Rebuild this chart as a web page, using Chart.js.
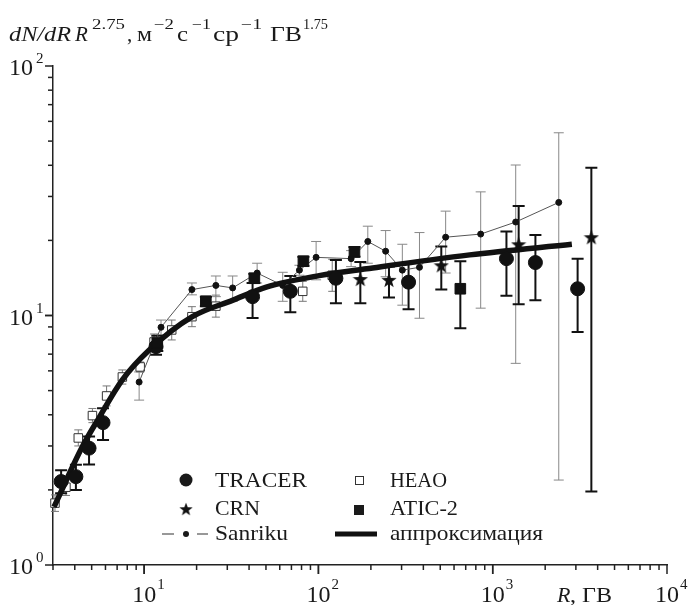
<!DOCTYPE html>
<html>
<head>
<meta charset="utf-8">
<script src="https://cdn.jsdelivr.net/npm/chart.js@4.4.0/dist/chart.umd.min.js"></script>
<style>
  body { margin: 0; background: #fff; }
  #wrap { width: 692px; height: 605px; }
</style>
</head>
<body>
<div id="wrap"><canvas id="spectrumChart" width="692" height="605"></canvas></div>
<script>
// TRACER
const traX  = [3.34, 4.06, 4.83, 5.81, 11.7, 41.9, 69.0, 126, 329, 1199, 1758, 3070];
const traY  = [2.16, 2.26, 2.94, 3.72, 7.50, 11.9, 12.5, 14.1, 13.6, 16.9, 16.3, 12.8];
const traLo = [1.94, 2.00, 2.53, 3.17, 6.96, 9.77, 10.3, 11.2, 10.6, 12.0, 11.5, 8.59];
const traHi = [2.40, 2.52, 3.27, 4.25, 8.07, 13.5, 14.4, 16.7, 16.4, 21.7, 21.0, 16.9];

// CRN
const crnX  = [174, 254, 507, 1409, 3681];
const crnY  = [14.0, 13.9, 15.9, 19.3, 20.6];
const crnLo = [11.2, 11.8, 12.7, 11.1, 1.97];
const crnHi = [16.4, 15.7, 18.9, 27.5, 39.1];

// ATIC-2
const aticX  = [11.9, 22.6, 42.9, 82.0, 161, 652];
const aticY  = [7.75, 11.4, 14.1, 16.5, 18.0, 12.8];
const aticLo = [7.2, 10.9, 13.5, 15.8, 17.2, 8.89];
const aticHi = [8.3, 11.9, 14.7, 17.2, 18.8, 16.5];

// HEAO
const heaoX  = [3.08, 3.56, 4.19, 5.05, 6.09, 7.50, 9.49, 11.4, 14.4, 18.8, 25.8, 81.3, 120];
const heaoY  = [1.77, 2.05, 3.23, 3.97, 4.76, 5.67, 6.22, 7.83, 8.75, 9.89, 10.9, 12.5, 14.5];
const heaoLo = [1.64, 1.90, 3.00, 3.72, 4.34, 5.31, 5.94, 7.27, 7.98, 9.02, 9.85, 11.4, 12.5];
const heaoHi = [1.91, 2.21, 3.48, 4.24, 5.22, 6.05, 6.51, 8.43, 9.59, 10.85, 12.07, 13.7, 16.8];

// Sanriku
const sanX  = [9.36, 12.5, 18.8, 25.8, 32.2, 44.5, 62.4, 77.8, 97.0, 154, 192, 243, 303, 380, 537, 853, 1355, 2393];
const sanY  = [5.41, 8.97, 12.7, 13.2, 12.9, 14.8, 13.2, 15.2, 17.1, 16.9, 19.8, 18.1, 15.2, 15.6, 20.6, 21.2, 23.7, 28.4];
const sanLo = [4.58, 8.35, 12.1, 11.9, 11.4, 13.5, 11.4, 14.5, 13.9, 15.7, 16.2, 14.3, 11.0, 9.75, 14.8, 10.7, 6.43, 2.19];
const sanHi = [5.94, 9.59, 13.5, 14.4, 14.4, 16.2, 14.9, 15.9, 19.8, 18.2, 22.8, 21.9, 19.3, 21.5, 26.2, 31.3, 40.1, 54.0];

// аппроксимация
const fitX = [3.04, 4.41, 5.51, 7.48, 10.7, 18.9, 32.1, 50.2, 101, 189, 738, 2845];
const fitY = [1.71, 2.97, 3.89, 5.51, 7.27, 9.89, 11.5, 13.0, 14.45, 15.4, 17.5, 19.3];

// axis ticks
const xMajor = [10, 100, 1000, 10000];
const yMajor = [1, 10, 100];

const pts = (xs, ys) => xs.map((v, i) => ({x: v, y: ys[i]}));

// filled star used as a point style
const star = document.createElement('canvas');
star.width = 16; star.height = 16;
(function () {
    const c = star.getContext('2d');
    c.fillStyle = '#111';
    c.beginPath();
    for (let i = 0; i < 10; i++) {
        const r = i % 2 ? 3.2 : 8;
        const a = -Math.PI / 2 + i * Math.PI / 5;
        c.lineTo(8 + r * Math.cos(a), 8.7 + r * Math.sin(a));
    }
    c.closePath();
    c.fill();
})();

const errSets = [
    {xs: heaoX, lo: heaoLo, hi: heaoHi, color: '#777', width: 1, cap: 4},
    {xs: sanX, lo: sanLo, hi: sanHi, color: '#888', width: 1, cap: 5},
    {xs: traX, lo: traLo, hi: traHi, color: '#111', width: 2, cap: 6},
    {xs: crnX, lo: crnLo, hi: crnHi, color: '#111', width: 2, cap: 6},
    {xs: aticX, lo: aticLo, hi: aticHi, color: '#111', width: 2, cap: 6}
];

function txt(ctx, s, x, y, size, italic, w) {
    ctx.font = (italic ? 'italic ' : '') + size + 'px "Liberation Serif"';
    ctx.save();
    ctx.translate(x, y);
    if (w) ctx.scale(w / ctx.measureText(s).width, 1);
    ctx.fillText(s, 0, 0);
    ctx.restore();
}

const errorBars = {
    id: 'errorBars',
    beforeDatasetsDraw(chart) {
        const {ctx, scales: {x, y}} = chart;
        errSets.forEach(set => {
            ctx.save();
            ctx.strokeStyle = set.color;
            ctx.lineWidth = set.width;
            set.xs.forEach((v, i) => {
                const px = x.getPixelForValue(v);
                const p1 = y.getPixelForValue(set.lo[i]);
                const p2 = y.getPixelForValue(set.hi[i]);
                ctx.beginPath();
                ctx.moveTo(px, p1); ctx.lineTo(px, p2);
                ctx.moveTo(px - set.cap, p1); ctx.lineTo(px + set.cap, p1);
                ctx.moveTo(px - set.cap, p2); ctx.lineTo(px + set.cap, p2);
                ctx.stroke();
            });
            ctx.restore();
        });
    }
};

const decorations = {
    id: 'decorations',
    afterDraw(chart) {
        const {ctx, scales: {x, y}, chartArea: a} = chart;
        ctx.save();
        ctx.strokeStyle = '#222';
        ctx.lineWidth = 1.5;
        ctx.fillStyle = '#1a1a1a';

        // log ticks, outside the plot
        for (let d = 1; d <= 1000; d *= 10) {
            for (let m = 1; m <= 10; m++) {
                const v = d * m;
                if (v < 3 || v > 10000) continue;
                const len = (m === 1 || m === 10) ? 9 : 5;
                const px = x.getPixelForValue(v);
                ctx.beginPath(); ctx.moveTo(px, a.bottom); ctx.lineTo(px, a.bottom + len); ctx.stroke();
            }
        }
        for (let d = 1; d <= 10; d *= 10) {
            for (let m = 1; m <= 10; m++) {
                const v = d * m;
                const len = (m === 1 || m === 10) ? 8 : 5;
                const py = y.getPixelForValue(v);
                ctx.beginPath(); ctx.moveTo(a.left, py); ctx.lineTo(a.left - len, py); ctx.stroke();
            }
        }

        // tick labels 10^n
        xMajor.forEach(v => {
            const px = x.getPixelForValue(v);
            ctx.textAlign = 'center';
            txt(ctx, '10', px, 602, 24, false);
            ctx.textAlign = 'left';
            txt(ctx, String(Math.round(Math.log10(v))), px + 13, 589, 15, false);
        });
        ctx.textAlign = 'left';
        yMajor.forEach(v => {
            const py = y.getPixelForValue(v);
            txt(ctx, '10', 9, py + 9, 24, false);
            txt(ctx, String(Math.round(Math.log10(v))), 36, py - 3, 15, false);
        });

        // axis titles
        txt(ctx, 'dN/dR', 9, 41, 21, true, 62);
        txt(ctx, 'R', 75, 41, 21, true);
        txt(ctx, '2.75', 92, 29, 14, false, 33);
        txt(ctx, ',', 127, 41, 21, false);
        txt(ctx, 'м', 137, 41, 21, false, 15);
        txt(ctx, '−2', 154, 29, 14, false, 20);
        txt(ctx, 'с', 177, 41, 21, false, 11);
        txt(ctx, '−1', 192, 29, 14, false, 19);
        txt(ctx, 'ср', 213, 41, 21, false, 26);
        txt(ctx, '−1', 241, 29, 14, false, 21);
        txt(ctx, 'ГВ', 270, 41, 21, false, 32);
        txt(ctx, '1.75', 303, 29, 14, false, 25);
        txt(ctx, 'R', 557, 602, 22, true);
        txt(ctx, ', ГВ', 570, 602, 22, false, 42);

        // legend
        const r1 = 480, r2 = 509, r3 = 534;
        ctx.beginPath(); ctx.arc(186, r1, 6.5, 0, 2 * Math.PI); ctx.fill();
        ctx.drawImage(star, 179, r2 - 7, 14, 14);
        ctx.strokeStyle = '#333'; ctx.lineWidth = 1.2;
        ctx.beginPath(); ctx.moveTo(162, r3); ctx.lineTo(174, r3); ctx.moveTo(197, r3); ctx.lineTo(208, r3); ctx.stroke();
        ctx.beginPath(); ctx.arc(186, r3, 3, 0, 2 * Math.PI); ctx.fill();
        ctx.strokeStyle = '#333'; ctx.lineWidth = 1;
        ctx.strokeRect(355.5, r1 - 3.5, 8, 8);
        ctx.fillRect(354, r2 - 4, 10, 10);
        ctx.strokeStyle = '#111'; ctx.lineWidth = 5;
        ctx.beginPath(); ctx.moveTo(335, r3); ctx.lineTo(377, r3); ctx.stroke();

        txt(ctx, 'TRACER', 215, 487, 21, false, 92);
        txt(ctx, 'CRN', 215, 515, 21, false, 45);
        txt(ctx, 'Sanriku', 215, 540, 21, false, 73);
        txt(ctx, 'HEAO', 390, 487, 21, false, 57);
        txt(ctx, 'ATIC-2', 390, 515, 21, false, 68);
        txt(ctx, 'аппроксимация', 390, 540, 21, false, 153);
        ctx.restore();
    }
};

new Chart(document.getElementById('spectrumChart'), {
    type: 'scatter',
    data: {
        datasets: [
            {
                label: 'CRN',
                data: pts(crnX, crnY),
                pointStyle: star,
                clip: false
            },
            {
                label: 'ATIC-2',
                data: pts(aticX, aticY),
                pointStyle: 'rect',
                pointRadius: 7.5,
                backgroundColor: '#111',
                borderColor: '#111',
                clip: false
            },
            {
                label: 'TRACER',
                data: pts(traX, traY),
                pointStyle: 'circle',
                pointRadius: 7,
                backgroundColor: '#111',
                borderColor: '#111',
                clip: false
            },
            {
                label: 'аппроксимация',
                type: 'line',
                data: pts(fitX, fitY),
                borderColor: '#111',
                borderWidth: 5.5,
                pointRadius: 0,
                cubicInterpolationMode: 'monotone',
                clip: false
            },
            {
                label: 'Sanriku',
                type: 'line',
                data: pts(sanX, sanY),
                borderColor: '#555',
                borderWidth: 1,
                pointRadius: 3,
                pointBackgroundColor: '#111',
                pointBorderColor: '#111',
                tension: 0,
                clip: false
            },
            {
                label: 'HEAO',
                data: pts(heaoX, heaoY),
                pointStyle: 'rect',
                pointRadius: 6,
                backgroundColor: '#fff',
                borderColor: '#333',
                borderWidth: 1,
                clip: false
            }
        ]
    },
    options: {
        responsive: false,
        animation: false,
        devicePixelRatio: 1,
        layout: {padding: {left: 53, top: 66, right: 25, bottom: 40}},
        plugins: {legend: {display: false}, tooltip: {enabled: false}},
        scales: {
            x: {
                type: 'logarithmic',
                min: 3,
                max: 10000,
                ticks: {display: false},
                grid: {display: false, drawTicks: false},
                border: {display: true, color: '#222', width: 1.5}
            },
            y: {
                type: 'logarithmic',
                min: 1,
                max: 100,
                ticks: {display: false},
                grid: {display: false, drawTicks: false},
                border: {display: true, color: '#222', width: 1.5}
            }
        }
    },
    plugins: [errorBars, decorations]
});
</script>
</body>
</html>
